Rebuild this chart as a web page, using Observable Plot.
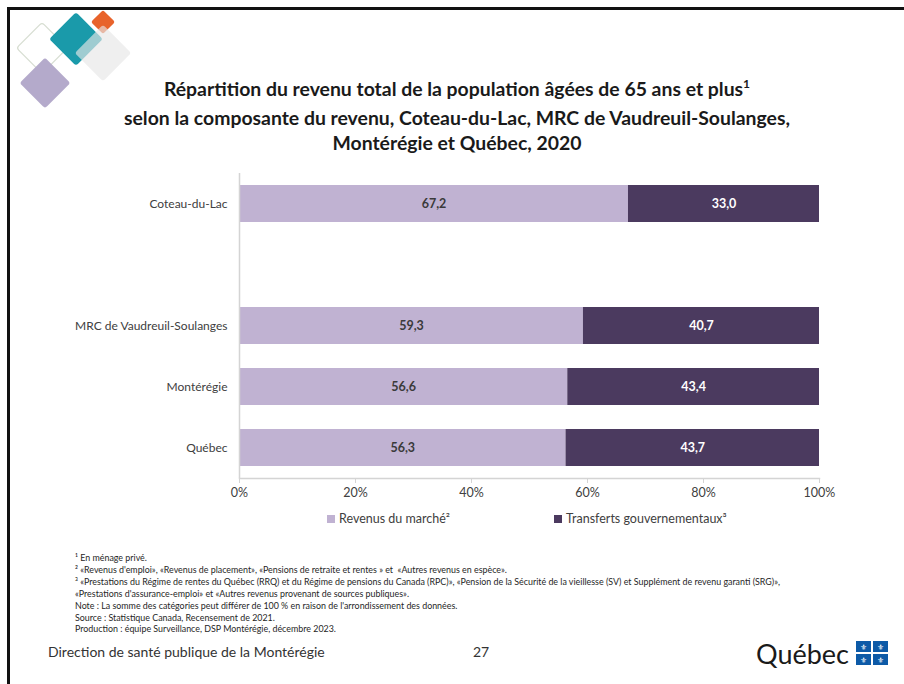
<!DOCTYPE html>
<html lang="fr">
<head>
<meta charset="utf-8">
<script src="https://cdn.jsdelivr.net/npm/d3@7"></script>
<script src="https://cdn.jsdelivr.net/npm/@observablehq/plot@0.6"></script>
<style>
  html, body { margin: 0; padding: 0; background: #fff; }
  #page { position: relative; width: 904px; height: 684px; overflow: hidden; font-family: Lato, "Open Sans", sans-serif; color: #262626; }
  #frameTop { position: absolute; left: 7px; top: 7px; width: 900px; height: 3px; background: #111; }
  #frameLeft { position: absolute; left: 7px; top: 7px; width: 3px; height: 690px; background: #111; }
  #chart { position: absolute; left: 0; top: 0; }
  #title { position: absolute; left: 0; width: 914px; top: 76px; text-align: center; font-weight: bold; font-size: 19.4px; line-height: 25.5px; color: #1a1a1a; }
  #title sup { font-size: 12px; vertical-align: 0; position: relative; top: -8px; }
  #legend { position: absolute; top: 511px; left: 0; width: 904px; font-size: 12.5px; color: #404040; }
  .lg { position: absolute; display: flex; align-items: center; white-space: nowrap; }
  .sw { width: 8px; height: 8px; margin-right: 4px; display: inline-block; }
  #notes { position: absolute; left: 75px; top: 552px; font-size: 8.9px; line-height: 11.9px; color: #262626; white-space: nowrap; }
  #footer { position: absolute; left: 48px; top: 643px; font-size: 14px; color: #333; }
  #pagenum { position: absolute; left: 473px; top: 643px; font-size: 14px; color: #333; }
</style>
</head>
<body>
<div id="page">
  <div id="frameTop"></div>
  <div id="frameLeft"></div>
  <svg id="deco" width="150" height="120" style="position:absolute;left:0;top:0">
    <g>
      <rect x="-18" y="-18" width="36" height="36" rx="3" transform="translate(42,48) rotate(45)" fill="none" stroke="#d6ddd0" stroke-width="1.2"/>
      <rect x="-18" y="-18" width="36" height="36" rx="3" transform="translate(45,83) rotate(45)" fill="#b4aacb"/>
      <rect x="-19" y="-19" width="38" height="38" rx="3" transform="translate(76,39) rotate(45)" fill="#1a9aaa"/>
      <rect x="-8.5" y="-8.5" width="17" height="17" rx="2" transform="translate(103,22) rotate(45)" fill="#e8632b"/>
      <rect x="-20" y="-20" width="40" height="40" rx="3" transform="translate(103,53) rotate(45)" fill="#e6e6e6" fill-opacity="0.65"/>
    </g>
  </svg>
  <div id="title">Répartition du revenu total de la population âgées de 65 ans et plus<sup>1</sup><br>selon la composante du revenu, Coteau-du-Lac, MRC de Vaudreuil-Soulanges,<br>Montérégie et Québec, 2020</div>
  <div id="chart"></div>
  <div id="legend"></div>
  <div id="notes">
    <div>¹ En ménage privé.</div>
    <div>² «Revenus d'emploi», «Revenus de placement», «Pensions de retraite et rentes » et &nbsp;«Autres revenus en espèce».</div>
    <div>³ «Prestations du Régime de rentes du Québec (RRQ) et du Régime de pensions du Canada (RPC)», «Pension de la Sécurité de la vieillesse (SV) et Supplément de revenu garanti (SRG)»,</div>
    <div>«Prestations d'assurance-emploi» et «Autres revenus provenant de sources publiques».</div>
    <div>Note : La somme des catégories peut différer de 100 % en raison de l'arrondissement des données.</div>
    <div>Source : Statistique Canada, Recensement de 2021.</div>
    <div>Production : équipe Surveillance, DSP Montérégie, décembre 2023.</div>
  </div>
  <div id="footer">Direction de santé publique de la Montérégie</div>
  <div id="pagenum">27</div>
  <svg id="qclogo" width="140" height="34" style="position:absolute;left:752px;top:636px">
    <text x="4" y="28" font-family="Lato, sans-serif" font-size="27" fill="#1a1a1a">Québec</text>
    <g fill="#0d5aa7">
      <rect x="104" y="5" width="15" height="11"/>
      <rect x="121" y="5" width="15" height="11"/>
      <rect x="104" y="18" width="15" height="11"/>
      <rect x="121" y="18" width="15" height="11"/>
    </g>
    <g fill="#fff" font-size="8" text-anchor="middle" font-family="DejaVu Sans">
      <text x="111.5" y="13.5">⚜</text><text x="128.5" y="13.5">⚜</text>
      <text x="111.5" y="26.5">⚜</text><text x="128.5" y="26.5">⚜</text>
    </g>
  </svg>
</div>
<script>
// ---- Data ----
const categories = ["Coteau-du-Lac", "", "MRC de Vaudreuil-Soulanges", "Montérégie", "Québec"];
const seriesNames = ["Revenus du marché", "Transferts gouvernementaux"];
const seriesLegend = ["Revenus du marché²", "Transferts gouvernementaux³"];
const marche =     [67.2, null, 59.3, 56.6, 56.3];
const transferts = [33.0, null, 40.7, 43.4, 43.7];
const xTicks = [0, 20, 40, 60, 80, 100];
const colors = ["#c0b2d2", "#4b3a5f"];
const labelColors = ["#3a3a3a", "#ffffff"];

const rows = [];
categories.forEach((c, i) => {
  if (marche[i] != null) rows.push({cat: c, serie: seriesNames[0], value: marche[i]});
  if (transferts[i] != null) rows.push({cat: c, serie: seriesNames[1], value: transferts[i]});
});
const fmt = v => v.toFixed(1).replace(".", ",");

// 100 % stacked offset (each stack rescaled to reach 100, as in the reference)
const to100 = (facetstacks, X1, X2) => {
  for (const stacks of facetstacks) for (const stack of stacks) {
    let hi = 0;
    for (const i of stack) hi = Math.max(hi, X2[i]);
    for (const i of stack) { X1[i] = X1[i] / hi * 100; X2[i] = X2[i] / hi * 100; }
  }
};

const chart = Plot.plot({
  width: 904,
  height: 684,
  marginLeft: 239,
  marginRight: 85,
  marginTop: 173,
  marginBottom: 206,
  style: {fontFamily: "Lato, 'Open Sans', sans-serif", background: "transparent", overflow: "visible"},
  x: {domain: [0, 100], ticks: xTicks, tickFormat: d => d + "%"},
  y: {domain: categories, paddingInner: 0.39, paddingOuter: 0.195},
  color: {domain: seriesNames, range: colors},
  marks: [
    Plot.barX(rows, Plot.stackX({
      offset: to100,
      x: "value", y: "cat", fill: "serie", order: seriesNames
    })),
    Plot.text(rows, Plot.stackX({
      offset: to100,
      x: "value", y: "cat", z: "serie", order: seriesNames,
      text: d => fmt(d.value),
      fill: d => labelColors[seriesNames.indexOf(d.serie)],
      fontSize: 12.5, fontWeight: "bold"
    })),
    Plot.ruleX([0], {stroke: "#d4d4d4", strokeWidth: 1.5}),
    Plot.frame({anchor: "bottom", stroke: "#d4d4d4", strokeWidth: 1.5}),
    Plot.axisX({ticks: xTicks, tickFormat: d => d + "%", tickSize: 5, tickPadding: 5, stroke: "#d4d4d4", color: "#404040", fontSize: 12.5, label: null}),
    Plot.axisY({tickSize: 0, tickPadding: 12, fontSize: 12, color: "#404040", label: null})
  ]
});
document.getElementById("chart").appendChild(chart);

// ---- Legend ----
const legend = document.getElementById("legend");
const lgX = [327, 554];
seriesLegend.forEach((name, i) => {
  const d = document.createElement("div");
  d.className = "lg";
  d.style.left = lgX[i] + "px";
  d.innerHTML = `<span class="sw" style="background:${colors[i]}"></span><span>${name}</span>`;
  legend.appendChild(d);
});
</script>
</body>
</html>
